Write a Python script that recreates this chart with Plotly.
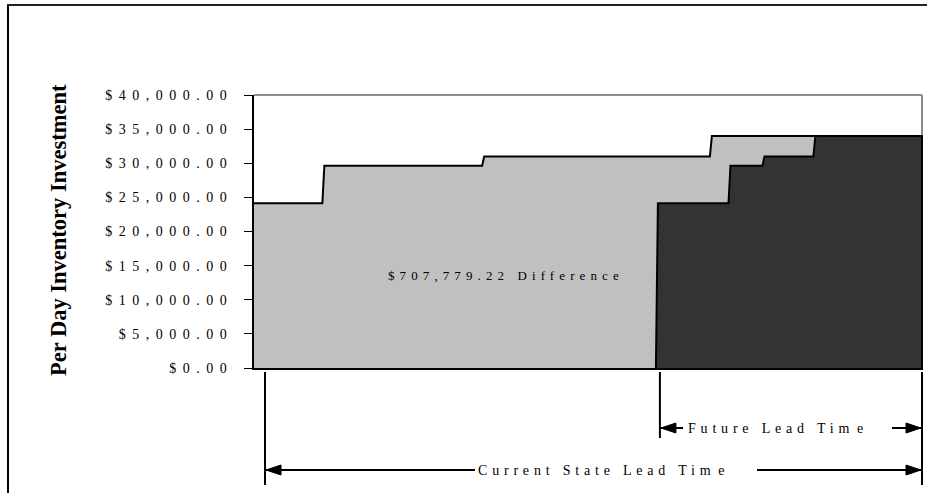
import plotly.graph_objects as go

# Per-day inventory investment along the value-stream timeline (x in days)
current_step_start = [0.0, 3.88, 12.82, 25.56]
current_step_value = [24150, 29640, 31000, 34000]
current_lead_time = 37.37

future_step_start = [22.54, 26.60, 28.50, 31.35]
future_step_value = [24150, 29640, 31000, 34000]
future_lead_time = 14.83

y_tick_values = [0, 5000, 10000, 15000, 20000, 25000, 30000, 35000, 40000]
y_tick_labels = ["$0.00", "$5,000.00", "$10,000.00", "$15,000.00", "$20,000.00",
                 "$25,000.00", "$30,000.00", "$35,000.00", "$40,000.00"]

y_title = "Per Day Inventory Investment"
difference_label = "$707,779.22 Difference"
current_label = "Current State Lead Tim\u2009e"
future_label = "Future Lead Tim\u2009e"

# ---- layout geometry (pixels) ----
W, H = 927, 493
PLOT_L, PLOT_R, PLOT_T, PLOT_B = 254, 923, 95, 368
FONT = "Liberation Serif, Times New Roman, serif"
RAMP = 0.056  # half-width of the slanted riser between levels (days)

x_max = current_lead_time * (PLOT_R - PLOT_L) / (PLOT_R - PLOT_L - 1)


def px_x(px):
    return (px - PLOT_L) / (PLOT_R - PLOT_L)


def px_y(py):
    return (PLOT_B - py) / (PLOT_B - PLOT_T)


def day_px(d):
    return PLOT_L + d / x_max * (PLOT_R - PLOT_L)


def spaced(text, sp):
    # letter-spaced text; a thin space is kept tight (no extra tracking)
    parts = text.split("\u2009")
    out = []
    for i, p in enumerate(parts):
        if i > 0:
            out.append('<span style="letter-spacing:0px">\u2009</span>')
        out.append(f'<span style="letter-spacing:{sp}px">{p}</span>')
    return "".join(out)


def step_profile(starts, values, end):
    xs, ys = [starts[0]], [values[0]]
    for i in range(1, len(starts)):
        xs += [starts[i] - RAMP, starts[i] + RAMP]
        ys += [values[i - 1], values[i]]
    xs.append(end)
    ys.append(values[-1])
    return xs, ys


cur_x, cur_y = step_profile(current_step_start, current_step_value, current_lead_time)

fut_x, fut_y = step_profile(future_step_start, future_step_value, current_lead_time)
fut_x = [future_step_start[0] - RAMP] + [fut_x[0] + RAMP] + fut_x[1:] + [current_lead_time]
fut_y = [0] + fut_y + [0]

fig = go.Figure()
fig.add_trace(go.Scatter(
    x=cur_x, y=cur_y, mode="lines", fill="tozeroy",
    fillcolor="#C0C0C0", line=dict(color="black", width=2),
    hoverinfo="skip", showlegend=False))
fig.add_trace(go.Scatter(
    x=fut_x, y=fut_y, mode="lines", fill="toself",
    fillcolor="#333333", line=dict(color="black", width=2),
    hoverinfo="skip", showlegend=False))

shapes = []
# plot-area frame (top and right) in grey
shapes.append(dict(type="line", xref="paper", yref="paper", x0=0, x1=px_x(day_px(current_lead_time)),
                   y0=1, y1=1, line=dict(color="#8C8C8C", width=2), layer="below"))
shapes.append(dict(type="line", xref="paper", yref="paper",
                   x0=px_x(day_px(current_lead_time)), x1=px_x(day_px(current_lead_time)),
                   y0=0, y1=1, line=dict(color="#8C8C8C", width=2), layer="below"))
# outer chart border
shapes.append(dict(type="line", xref="paper", yref="paper", x0=px_x(8), x1=px_x(8),
                   y0=px_y(4), y1=px_y(H + 5), line=dict(color="black", width=2)))
shapes.append(dict(type="line", xref="paper", yref="paper", x0=px_x(7), x1=px_x(W + 5),
                   y0=px_y(5), y1=px_y(5), line=dict(color="#222222", width=2)))


def vline(px, top, bottom):
    shapes.append(dict(type="line", xref="paper", yref="paper", x0=px_x(px), x1=px_x(px),
                       y0=px_y(top), y1=px_y(bottom), line=dict(color="black", width=2)))


def hline(x0, x1, py):
    shapes.append(dict(type="line", xref="paper", yref="paper", x0=px_x(x0), x1=px_x(x1),
                       y0=px_y(py), y1=px_y(py), line=dict(color="black", width=2)))


def head(tip, py, direction, length=15, half=5):
    base = tip + direction * length
    path = (f"M {px_x(tip)},{px_y(py)} L {px_x(base)},{px_y(py - half)} "
            f"L {px_x(base)},{px_y(py + half)} Z")
    shapes.append(dict(type="path", xref="paper", yref="paper", path=path,
                       fillcolor="black", line=dict(color="black", width=1)))


# dimension lines for lead times
cur_left = day_px(0) + 11
fut_left = day_px(current_lead_time - future_lead_time) + 3
right = day_px(current_lead_time)

vline(cur_left, 372, 485)
vline(fut_left, 372, 438)
vline(right, 372, 485)

cur_y_px, fut_y_px = 470, 428
hline(cur_left, 475, cur_y_px)
hline(757, right, cur_y_px)
head(cur_left + 1, cur_y_px, 1)
head(right - 1, cur_y_px, -1)

hline(fut_left, 683, fut_y_px)
hline(892, right, fut_y_px)
head(fut_left + 1, fut_y_px, 1)
head(right - 1, fut_y_px, -1)

annotations = [
    dict(text=f"<b>{y_title}</b>", xref="paper", yref="paper", x=px_x(58), y=px_y(230),
         textangle=-90, showarrow=False, xanchor="center", yanchor="middle",
         font=dict(family=FONT, size=22.5, color="black")),
    dict(text=spaced(difference_label, 5.1), xref="paper", yref="paper",
         x=px_x(386), y=px_y(275), showarrow=False, xanchor="left", yanchor="middle",
         font=dict(family=FONT, size=13, color="black")),
    dict(text=spaced(current_label, 4.8), xref="paper", yref="paper",
         x=px_x(476), y=px_y(cur_y_px), showarrow=False, xanchor="left", yanchor="middle",
         font=dict(family=FONT, size=14, color="black")),
    dict(text=spaced(future_label, 4.8), xref="paper", yref="paper",
         x=px_x(686), y=px_y(fut_y_px), showarrow=False, xanchor="left", yanchor="middle",
         font=dict(family=FONT, size=14, color="black")),
]

fig.update_layout(
    width=W, height=H,
    margin=dict(l=PLOT_L, r=W - PLOT_R, t=PLOT_T, b=H - PLOT_B),
    paper_bgcolor="white", plot_bgcolor="white",
    shapes=shapes, annotations=annotations, showlegend=False,
    xaxis=dict(range=[0, x_max], showgrid=False, zeroline=False, showticklabels=False,
               ticks="", showline=True, linecolor="black", linewidth=2, fixedrange=True),
    yaxis=dict(range=[0, 40000], tickvals=y_tick_values,
               ticktext=[spaced(t, 6.5) for t in y_tick_labels],
               ticks="outside", ticklen=8, tickwidth=1, tickcolor="black",
               ticklabelstandoff=8,
               showgrid=False, zeroline=False, showline=True, linecolor="black", linewidth=2,
               tickfont=dict(family=FONT, size=14, color="black"), fixedrange=True),
)

fig.write_html("out.html", config={"displayModeBar": False})
